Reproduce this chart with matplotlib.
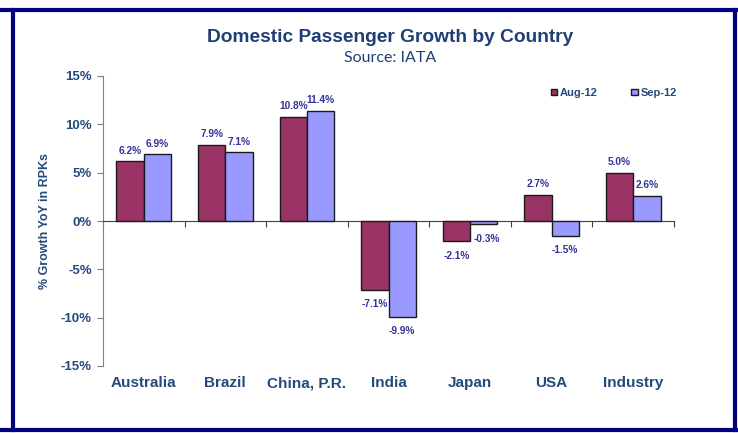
import numpy as np
import matplotlib
matplotlib.use("Agg")
import matplotlib.pyplot as plt
from matplotlib.lines import Line2D
from matplotlib.patches import Patch

countries = ["Australia", "Brazil", "China, P.R.", "India", "Japan", "USA", "Industry"]
aug_12 = [6.2, 7.9, 10.8, -7.1, -2.1, 2.7, 5.0]
sep_12 = [6.9, 7.1, 11.4, -9.9, -0.3, -1.5, 2.6]
series_names = ["Aug-12", "Sep-12"]
y_ticks = [-15, -10, -5, 0, 5, 10, 15]

aug_color = "#993366"
sep_color = "#9999FF"
label_color = "#333399"
text_color = "#244A7C"
frame_color = "#000080"

plt.rcParams['font.family'] = ['Liberation Sans', 'DejaVu Sans']

fig = plt.figure(figsize=(7.38, 4.33), dpi=100)
ax = fig.add_axes([103 / 738, 1 - 366 / 433, (674 - 103) / 738, (366 - 76) / 433])

x = np.arange(len(countries))
w = 0.335
b1 = ax.bar(x - w / 2, aug_12, w, color=aug_color, edgecolor="#1a1a1a", linewidth=1.0, zorder=3)
b2 = ax.bar(x + w / 2, sep_12, w, color=sep_color, edgecolor="#1a1a1a", linewidth=1.0, zorder=3)

# value labels
for bars, vals in ((b1, aug_12), (b2, sep_12)):
    for r, v in zip(bars, vals):
        cx = r.get_x() + r.get_width() / 2
        if v >= 0:
            ax.annotate(f"{v:.1f}%", (cx, v), xytext=(0, 4), textcoords="offset points",
                        ha="center", va="bottom", fontsize=7.3, fontweight="bold", color=label_color)
        else:
            ax.annotate(f"{v:.1f}%", (cx, v), xytext=(2 if abs(v) < 1 else 0, -7), textcoords="offset points",
                        ha="center", va="top", fontsize=7.3, fontweight="bold", color=label_color)

ax.set_xlim(-0.5, len(countries) - 0.5)
ax.set_ylim(-15, 15)
ax.set_yticks(y_ticks)
ax.set_yticklabels([f"{t}%" for t in y_ticks], fontsize=9.5, fontweight="bold", color=text_color)
ax.tick_params(axis="y", direction="out", length=4, color="#808080", pad=4)

ax.spines["top"].set_visible(False)
ax.spines["right"].set_visible(False)
ax.spines["left"].set_color("#808080")
ax.spines["bottom"].set_position(("data", 0))
ax.spines["bottom"].set_color("#404040")
ax.set_xticks(np.arange(len(countries) + 1) - 0.5)
ax.set_xticklabels([])
ax.tick_params(axis="x", direction="out", length=4, color="#404040")

for i, c in enumerate(countries):
    ax.text(i, -0.06, c, transform=ax.get_xaxis_transform(), ha="center", va="center",
            fontsize=11, fontweight="bold", color=text_color)

ax.set_ylabel("% Growth YoY in RPKs", fontsize=9, fontweight="bold", color=text_color, labelpad=7)

fig.text(390 / 738, 1 - 37 / 433, "Domestic Passenger Growth by Country", ha="center", va="center",
         fontsize=13.8, fontweight="bold", color="#1F3F73")
fig.text(390 / 738, 1 - 58 / 433, "Source: IATA", ha="center", va="center",
         fontsize=11.5, color="#1F3F73", family=["Lato", "DejaVu Sans"])

handles = [Patch(facecolor=aug_color, edgecolor="#1a1a1a"), Patch(facecolor=sep_color, edgecolor="#1a1a1a")]
leg = fig.legend(handles, series_names, loc="center", bbox_to_anchor=(614 / 738, 1 - 93 / 433), ncol=2,
                 frameon=False, handlelength=0.55, handleheight=0.55, handletextpad=0.3, columnspacing=3.0,
                 prop={"size": 8, "weight": "bold"})
for t in leg.get_texts():
    t.set_color(text_color)

# dark blue frame
fig.add_artist(Line2D([0, 1], [1 - 9.5 / 433] * 2, color=frame_color, lw=3, transform=fig.transFigure))
fig.add_artist(Line2D([0, 1], [1 - 430 / 433] * 2, color=frame_color, lw=3, transform=fig.transFigure))
fig.add_artist(Line2D([13 / 738] * 2, [1 - 9.5 / 433, 1 - 430 / 433], color=frame_color, lw=3, transform=fig.transFigure))
fig.add_artist(Line2D([735 / 738] * 2, [1 - 9.5 / 433, 1 - 430 / 433], color=frame_color, lw=3, transform=fig.transFigure))

fig.savefig("out.png", dpi=100)
